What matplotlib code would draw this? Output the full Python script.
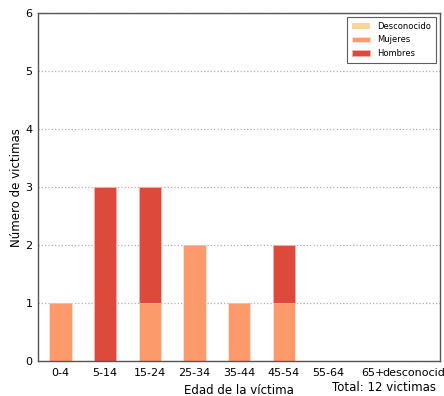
import numpy as np
import matplotlib
matplotlib.use('Agg')
import matplotlib.pyplot as plt

# datos por grupo de edad
edades = ['0-4', '5-14', '15-24', '25-34', '35-44', '45-54', '55-64', '65+', 'desconocido']
mujeres = [1, 0, 1, 2, 1, 1, 0, 0, 0]
hombres = [0, 3, 2, 0, 0, 1, 0, 0, 0]
desconocido = [0, 0, 0, 0, 0, 0, 0, 0, 0]

x = np.arange(len(edades))
muj = np.array(mujeres)
hom = np.array(hombres)
des = np.array(desconocido)

fig = plt.figure(figsize=(4.44, 3.96), dpi=100)
ax = fig.add_axes([0.086, 0.088, 0.905, 0.879])

b_muj = ax.bar(x, muj, width=0.5, color='#fc9a6c', edgecolor='#fde3d6', linewidth=0.6, label='Mujeres', zorder=2)
b_hom = ax.bar(x, hom, width=0.5, bottom=muj, color='#dd4a3b', edgecolor='#f2b3ab', linewidth=0.6, label='Hombres', zorder=2)
b_des = ax.bar(x, des, width=0.5, bottom=muj + hom, color='#fdd49e', linewidth=0, label='Desconocido', zorder=2)

ax.set_xlim(-0.5, len(edades) - 0.5)
ax.set_ylim(0, 6)
ax.set_xticks(x)
ax.set_xticklabels(edades, fontsize=8)
ax.set_yticks(range(7))
ax.tick_params(axis='y', labelsize=8, length=0, pad=4)
ax.tick_params(axis='x', length=0, pad=5)
ax.yaxis.grid(True, linestyle=':', color='#b0b0b0', linewidth=0.9, zorder=0)
ax.set_axisbelow(True)
for s in ax.spines.values():
    s.set_color('#555555')
    s.set_linewidth(1.0)

ax.set_ylabel('Número de victimas', fontsize=8.5, labelpad=2)
ax.set_xlabel('Edad de la víctima', fontsize=8.5, labelpad=4)
fig.text(0.982, 0.006, 'Total: 12 victimas', fontsize=8.5, ha='right', va='bottom')

leg = ax.legend([b_des, b_muj, b_hom], ['Desconocido', 'Mujeres', 'Hombres'],
                loc='upper right', fontsize=6, fancybox=False, edgecolor='#333333',
                borderpad=0.6, handlelength=2.2)
leg.get_frame().set_linewidth(0.8)

fig.savefig('out.png', dpi=100)
